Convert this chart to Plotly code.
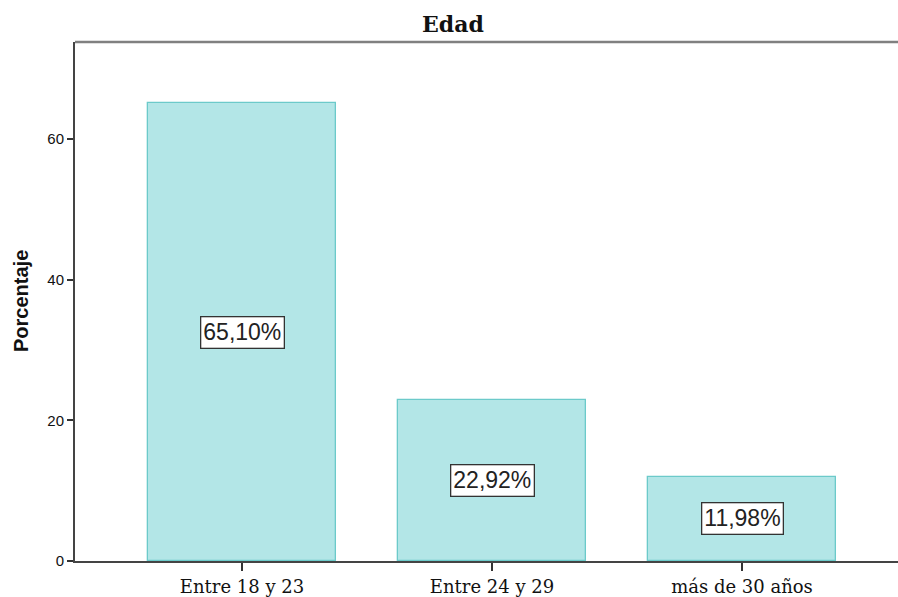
import plotly.graph_objects as go

categories = ["Entre 18 y 23", "Entre 24 y 29", "más de 30 años"]
values = [65.10, 22.92, 11.98]
labels = ["65,10%", "22,92%", "11,98%"]
y_ticks = [0, 20, 40, 60]

W, H = 898, 597
L, R, T, B = 75, 0, 42, 36

fig = go.Figure()
fig.add_trace(go.Bar(
    x=list(range(len(categories))), y=values, width=0.752,
    marker=dict(color="#b3e6e7", line=dict(color="#6ccaca", width=1.3)),
    hoverinfo="skip",
))

for i, (v, lab) in enumerate(zip(values, labels)):
    fig.add_annotation(
        x=i, y=v / 2, text=lab, showarrow=False,
        font=dict(family="Liberation Sans, Arial", size=23, color="#222"),
        bgcolor="white", bordercolor="#333", borderwidth=1.3, borderpad=2,
    )

fig.add_annotation(
    xref="paper", yref="paper", x=(453 - L) / (W - L - R), y=1 + (T - 24) / (H - T - B),
    text="<b>Edad</b>", showarrow=False, xanchor="center", yanchor="middle",
    font=dict(family="DejaVu Serif", size=22, color="#111"),
)
fig.add_annotation(
    xref="paper", yref="paper", x=(21 - L) / (W - L - R), y=(H - B - 301) / (H - T - B),
    text="<b>Porcentaje</b>", showarrow=False, textangle=-90,
    xanchor="center", yanchor="middle",
    font=dict(family="Liberation Sans, Arial", size=20, color="#111"),
)

fig.update_layout(
    width=W, height=H, margin=dict(l=L, r=R, t=T, b=B),
    plot_bgcolor="white", paper_bgcolor="white", showlegend=False,
    bargap=0,
    xaxis=dict(
        range=[-0.668, 2.624], tickmode="array",
        tickvals=list(range(len(categories))), ticktext=categories,
        ticks="outside", ticklen=8, tickwidth=1.5, tickcolor="#333",
        showline=True, linecolor="#444", linewidth=2, mirror=False,
        showgrid=False, zeroline=False,
        tickfont=dict(family="DejaVu Serif", size=18, color="#111"),
        fixedrange=True,
    ),
    yaxis=dict(
        range=[0, 73.8], tickmode="array", tickvals=y_ticks,
        ticks="outside", ticklen=6, tickwidth=1.5, tickcolor="#333",
        showline=True, linecolor="#444", linewidth=2,
        showgrid=False, zeroline=False,
        tickfont=dict(family="Liberation Sans, Arial", size=15, color="#111"),
        fixedrange=True,
    ),
)
# top frame line
fig.add_shape(type="line", xref="paper", yref="paper", x0=0, x1=1, y0=1, y1=1,
              line=dict(color="#808080", width=2.5))

fig.write_html(
    "out.html",
    config={"displayModeBar": False},
    post_script="document.body.style.margin='0';document.body.style.overflow='hidden';",
)
